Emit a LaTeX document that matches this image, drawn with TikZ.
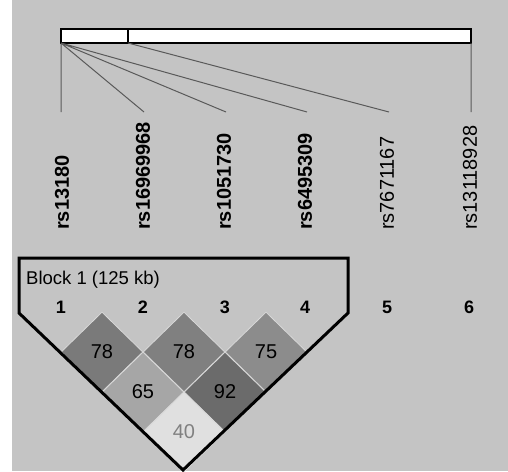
\documentclass[tikz,border=0pt]{standalone}
\usepackage{fontspec}
\setmainfont{Liberation Sans}
\usetikzlibrary{shapes.geometric}
\definecolor{bggray}{gray}{0.77}
\definecolor{gapgray}{gray}{0.85}
\definecolor{linegray}{gray}{0.35}

\begin{document}
\begin{tikzpicture}[x=1pt,y=-1pt,
  snp/.style={rotate=90,anchor=west,inner sep=0pt,font=\fontsize{20}{20}\selectfont},
  snpb/.style={snp,font=\bfseries\fontsize{20}{20}\selectfont},
  idx/.style={inner sep=0pt,font=\bfseries\fontsize{18}{18}\selectfont},
  ldcell/.style={diamond,inner sep=0pt,minimum width=82pt,minimum height=80pt,
    draw=gapgray,line width=0.8pt,font=\fontsize{20}{20}\selectfont}]
  \useasboundingbox (0,0) rectangle (508,471);
  \fill[white] (0,0) rectangle (12,471);
  \fill[bggray] (12,0) rectangle (508,471);

  \draw[line width=1.3pt,fill=white] (61,29) rectangle (471,43);
  \draw[line width=1.3pt] (128,29) -- (128,43);
  \coordinate (t1) at (61,43);
  \coordinate (tdiv) at (128,43);
  \coordinate (t6) at (471,43);
  \foreach \i/\x in {1/61,2/144,3/226,4/307,5/389,6/471}
    \coordinate (b\i) at (\x,112);
  \draw[linegray,line width=1pt] (t1) -- (b1) (t1) -- (b2) (t1) -- (b3)
    (t1) -- (b4) (tdiv) -- (b5) (t6) -- (b6);

  \node[snpb] (l1) at (62,230) {rs13180};
  \node[snpb] (l2) at (143,230) {rs16969968};
  \node[snpb] (l3) at (224,230) {rs1051730};
  \node[snpb] (l4) at (305,230) {rs6495309};
  \node[snp] (l5) at (387,230) {rs7671167};
  \node[snp] (l6) at (470,230) {rs13118928};

  \foreach \i/\x in {1/61,2/143,3/225,4/305,5/387,6/469}
    \node[idx] (m\i) at (\x,307) {\i};

  \node[ldcell,fill=black!52] (d12) at (102,352) {78};
  \node[ldcell,fill=black!50] (d23) at (184,352) {78};
  \node[ldcell,fill=black!45] (d34) at (266,352) {75};
  \node[ldcell,fill=black!35] (d13) at (143,392) {65};
  \node[ldcell,fill=black!58] (d24) at (225,392) {92};
  \node[ldcell,fill=black!12,text=black!50] (d14) at (184,432) {40};

  \draw[line width=3pt,line join=miter] (19,258) -- (348,258) -- (348,313)
    -- (183,470) -- (19,313) -- cycle;
  \node[anchor=west,inner sep=0pt,font=\fontsize{18.5}{18.5}\selectfont]
    (blk) at (26,280) {Block 1 (125 kb)};
\end{tikzpicture}
\end{document}
